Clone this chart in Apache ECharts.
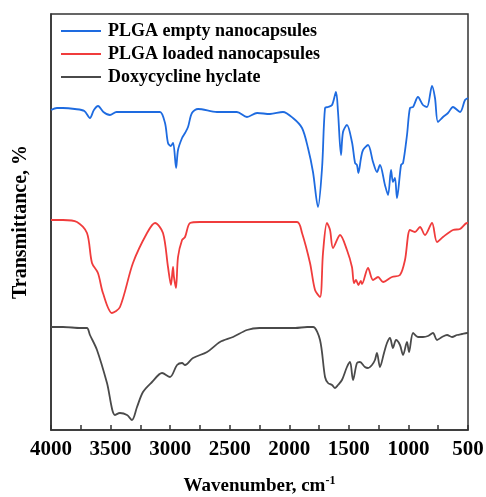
<!DOCTYPE html>
<html>
<head>
<meta charset="utf-8">
<script src="https://cdn.jsdelivr.net/npm/echarts@6/dist/echarts.min.js"></script>
<style>
  html, body { margin: 0; padding: 0; background: #fff; }
  #chart { width: 486px; height: 497px; }
</style>
</head>
<body>
<div id="chart"></div>
<script>
// series names (legend)
const seriesNames = ['PLGA empty nanocapsules', 'PLGA loaded nanocapsules', 'Doxycycline hyclate']

// [wavenumber cm-1, transmittance (offset, arbitrary units)]
const plgaEmpty = [
  [4000, 80], [3950, 80.5], [3900, 80.5], [3800, 80.25], [3720, 79.75], [3673, 78],
  [3640, 80], [3605, 81], [3560, 79.5], [3505, 78.75], [3450, 79.5], [3300, 79.5],
  [3150, 79.5], [3085, 79.5], [3043, 76.75], [3018, 71.75], [2995, 71], [2975, 71.75],
  [2950, 65.5], [2934, 70], [2900, 73], [2875, 74.25], [2850, 75.75], [2817, 79.25],
  [2766, 80.25], [2607, 79.5], [2440, 79.5], [2355, 78.25], [2270, 79.25], [2162, 79],
  [2053, 79.5], [1969, 78], [1893, 75.5], [1843, 70.5], [1801, 64.5], [1759, 55.75],
  [1725, 65.5], [1700, 80.5], [1675, 80.75], [1641, 81.25], [1608, 84.5], [1591, 79.5],
  [1566, 68.75], [1549, 74.5], [1516, 76.25], [1474, 72], [1448, 66.75], [1432, 66.25],
  [1420, 64.25], [1398, 68], [1381, 70], [1339, 71.25], [1297, 67], [1264, 64.5],
  [1239, 66.25], [1197, 61.25], [1171, 58.75], [1146, 65], [1130, 62], [1113, 63],
  [1096, 58], [1062, 66.25], [1045, 66.75], [1012, 73.75], [987, 80.5], [961, 80.75],
  [920, 83.25], [878, 81.25], [844, 80.75], [802, 86], [777, 83], [752, 77],
  [710, 78.25], [668, 79.25], [626, 80.75], [567, 79.5], [525, 82.5], [500, 83]
]

const plgaLoaded = [
  [4000, 52.5], [3900, 52.5], [3782, 52], [3698, 49.25], [3656, 41.75], [3606, 39.25],
  [3564, 34.25], [3488, 29.25], [3421, 30.75], [3312, 41.75], [3194, 49.25], [3127, 51.75],
  [3060, 49.25], [3018, 40.75], [2993, 36.25], [2976, 40.75], [2968, 38.25], [2951, 35.5],
  [2934, 43.25], [2900, 47.5], [2875, 48.25], [2833, 51.75], [2750, 52], [2400, 52],
  [1935, 52], [1893, 49.25], [1826, 41.75], [1784, 35], [1742, 33.25], [1717, 44.25],
  [1684, 51.75], [1658, 50], [1633, 45.5], [1574, 48.75], [1516, 45], [1474, 40.75],
  [1457, 36.75], [1440, 37.5], [1420, 36.25], [1400, 37.25], [1390, 36.5], [1339, 40.5],
  [1297, 37.5], [1255, 38.25], [1213, 37], [1138, 38.25], [1071, 38.75], [1029, 42.5],
  [987, 50], [945, 49.5], [903, 50.75], [861, 48.75], [802, 51.75], [760, 47],
  [710, 48.25], [626, 50], [567, 50.25], [508, 51.75], [500, 51.75]
]

const doxycycline = [
  [4000, 25.75], [3900, 25.75], [3750, 25.5], [3698, 25.5], [3673, 23.75], [3614, 20],
  [3530, 11.75], [3463, 3.75], [3421, 4.25], [3362, 3.75], [3320, 2.5], [3278, 5.75],
  [3228, 9.5], [3152, 12], [3068, 14.25], [3001, 13.25], [2942, 16.25], [2900, 16.75],
  [2875, 16.25], [2808, 18], [2690, 19.5], [2582, 22], [2472, 23.25], [2355, 25],
  [2250, 25.5], [2100, 25.5], [1950, 25.5], [1850, 25.75], [1800, 25.75], [1742, 22.5],
  [1700, 13.25], [1675, 11.75], [1641, 11.25], [1616, 10.5], [1591, 11.25], [1558, 12.5],
  [1516, 15.75], [1490, 17], [1465, 12.5], [1432, 16.75], [1407, 17], [1365, 15.75],
  [1339, 15.5], [1306, 16.25], [1281, 17.5], [1264, 19.25], [1239, 15.75], [1205, 19.25],
  [1180, 21.75], [1155, 23], [1130, 20.5], [1104, 22.5], [1071, 21.25], [1045, 18.75],
  [1012, 22], [995, 19.5], [961, 24.25], [920, 23.25], [878, 23.25], [836, 23.5],
  [794, 24.25], [760, 22.5], [718, 23.25], [676, 23.75], [634, 23.25], [592, 23.75],
  [550, 24], [508, 24.25], [500, 24.25]
]

const seriesColors = ['#1e6be0', '#f03c3c', '#4a4a4a']
const font = 'Liberation Serif'

const chart = echarts.init(document.getElementById('chart'))

const option = {
  animation: false,
  backgroundColor: '#fff',
  grid: {
    left: 51, right: 18, top: 14, bottom: 67,
    outerBoundsMode: 'none',
    show: true, borderColor: '#333', borderWidth: 1.5
  },
  legend: {
    orient: 'vertical',
    left: 61,
    top: 22,
    padding: 0,
    itemGap: 5,
    itemWidth: 40,
    itemHeight: 2,
    icon: 'rect',
    data: seriesNames,
    textStyle: { fontFamily: font, fontWeight: 'bold', fontSize: 18, color: '#000', padding: [0, 0, 0, 2] }
  },
  xAxis: {
    type: 'value',
    inverse: true,
    min: 500,
    max: 4000,
    interval: 250,
    name: 'Wavenumber, cm{sup|-1}',
    nameLocation: 'middle',
    nameGap: 45,
    nameTextStyle: {
      fontFamily: font, fontWeight: 'bold', fontSize: 19, color: '#000',
      rich: { sup: { fontFamily: font, fontWeight: 'bold', fontSize: 12, color: '#000', verticalAlign: 'top', padding: [0, 0, 10, 0] } }
    },
    axisLine: { lineStyle: { color: '#333', width: 1.5 } },
    axisTick: { inside: true, length: 5, lineStyle: { color: '#333', width: 1.5 } },
    axisLabel: {
      margin: 9,
      fontFamily: font, fontWeight: 'bold', fontSize: 21, color: '#000',
      formatter: v => (v % 500 === 0 ? String(v) : '')
    },
    splitLine: { show: false }
  },
  yAxis: {
    type: 'value',
    min: 0,
    max: 104,
    name: 'Transmittance, %',
    nameLocation: 'middle',
    nameGap: 20,
    nameTextStyle: { fontFamily: font, fontWeight: 'bold', fontSize: 20, color: '#000' },
    axisLine: { show: true, lineStyle: { color: '#333', width: 1.5 } },
    axisTick: { show: false },
    axisLabel: { show: false },
    splitLine: { show: false }
  },
  series: [plgaEmpty, plgaLoaded, doxycycline].map((d, i) => ({
    name: seriesNames[i],
    type: 'line',
    data: d,
    smooth: 0.3,
    showSymbol: false,
    lineStyle: { color: seriesColors[i], width: 1.8 },
    itemStyle: { color: seriesColors[i] }
  }))
}

chart.setOption(option)
</script>
</body>
</html>
